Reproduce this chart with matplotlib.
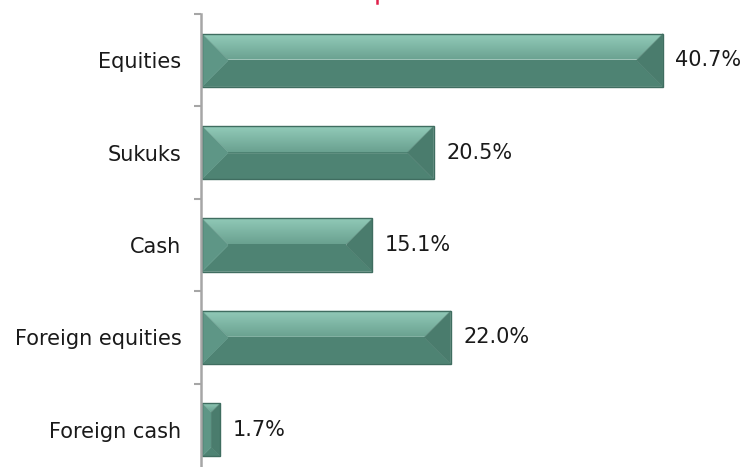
import matplotlib
matplotlib.use("Agg")
import matplotlib.pyplot as plt
import numpy as np
from matplotlib.patches import Polygon
from matplotlib.colors import LinearSegmentedColormap
from matplotlib.lines import Line2D

categories = ["Equities", "Sukuks", "Cash", "Foreign equities", "Foreign cash"]
values = [40.7, 20.5, 15.1, 22.0, 1.7]
value_labels = ["40.7%", "20.5%", "15.1%", "22.0%", "1.7%"]

W, H = 752, 467
fig = plt.figure(figsize=(W / 100, H / 100), dpi=100)
ax = fig.add_axes([201 / W, 1 - 476 / H, 551 / W, 462 / H])
xmax = 551 / 11.35
ax.set_xlim(0, xmax)
ax.set_ylim(len(categories) - 0.5, -0.5)

bar_h = 0.575
top_cmap = LinearSegmentedColormap.from_list("top", ["#92cbb9", "#6aa190"])
inv = ax.transData.inverted()

for i, v in enumerate(values):
    (x0, y0), (x1, y1) = ax.transData.transform([(0, i + bar_h / 2), (v, i - bar_h / 2)])
    x0 += 1
    b = min(26, (x1 - x0) / 2, (y1 - y0) / 2)
    BL, BR, TR, TL = (x0, y0), (x1, y0), (x1, y1), (x0, y1)
    iBL, iBR, iTR, iTL = (x0 + b, y0 + b), (x1 - b, y0 + b), (x1 - b, y1 - b), (x0 + b, y1 - b)

    def poly(pts, **kw):
        p = Polygon(inv.transform(pts), closed=True, **kw)
        ax.add_patch(p)
        return p

    poly([BL, BR, iBR, iBL], facecolor="#4e8373", edgecolor="#4e8373", lw=0.3, zorder=2)
    poly([iBL, iBR, iTR, iTL], facecolor="#4e8373", edgecolor="none", zorder=2)
    tp = poly([TL, TR, iTR, iTL], facecolor="none", edgecolor="none", zorder=2)
    ytop_d = inv.transform([(x0, y1)])[0][1]
    ymid_d = inv.transform([(x0, y1 - b)])[0][1]
    x0d = inv.transform([(x0, y1)])[0][0]
    img = ax.imshow(np.linspace(0, 1, 64).reshape(-1, 1), cmap=top_cmap, aspect="auto",
                    extent=(x0d, v, ymid_d, ytop_d), origin="upper", zorder=2.1,
                    interpolation="bilinear")
    img.set_clip_path(tp)
    poly([BL, iBL, iTL, TL], facecolor="#5e9686", edgecolor="#5e9686", lw=0.3, zorder=2.2)
    poly([BR, TR, iTR, iBR], facecolor="#4a7c6d", edgecolor="#4a7c6d", lw=0.3, zorder=2.2)
    poly([BL, BR, TR, TL], facecolor="none", edgecolor="#3f6d60", lw=1.0, zorder=2.3)

    ax.annotate(value_labels[i], xy=(v, i), xytext=(9, 0), textcoords="offset points",
                ha="left", va="center", fontsize=15, color="#1a1a1a")

ax.set_xlim(0, xmax)
ax.set_ylim(len(categories) - 0.5, -0.5)

ax.set_yticks(range(len(categories)))
ax.set_yticklabels(categories, fontsize=15, color="#1a1a1a")
ax.set_yticks(np.arange(-0.5, len(categories)), minor=True)
ax.tick_params(axis="y", which="major", length=0, pad=14)
ax.tick_params(axis="y", which="minor", length=5, width=1.5, color="#a6a6a6")
ax.set_xticks([])
for s in ["top", "right", "bottom"]:
    ax.spines[s].set_visible(False)
ax.spines["left"].set_color("#a6a6a6")
ax.spines["left"].set_linewidth(1.8)
ax.patch.set_alpha(0)

fig.add_artist(Line2D([377 / W, 377 / W], [1 - 3 / H, 1.0], transform=fig.transFigure,
                      color="#e0204a", lw=1.8))

fig.savefig("out.png", dpi=100)
